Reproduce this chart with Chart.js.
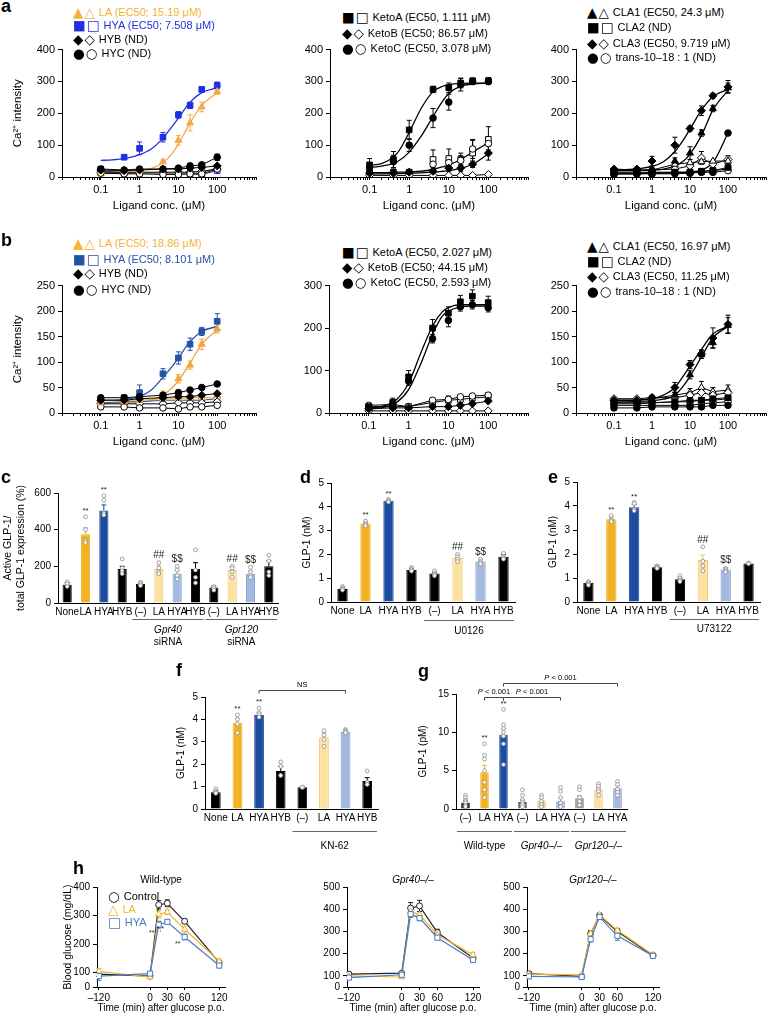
<!DOCTYPE html>
<html><head><meta charset="utf-8">
<script src="https://cdn.jsdelivr.net/npm/chart.js@4.4.1/dist/chart.umd.min.js"></script>
<style>
body{margin:0;background:#fff;}
#fig{position:relative;width:772px;height:1017px;overflow:hidden;font-family:'Liberation Sans',Arial,sans-serif;color:#000;}
#fig canvas{position:absolute;}
.lbl{position:absolute;font-weight:bold;font-size:18px;line-height:18px;}
.leg{position:absolute;font-size:11px;line-height:14px;white-space:nowrap;}
.sym{font-family:'DejaVu Sans';font-size:13.5px;letter-spacing:1px;margin-right:3px;vertical-align:-1px;}
.ttl{position:absolute;font-size:10px;line-height:12px;white-space:nowrap;transform:translateX(-50%);}
</style></head><body><div id="fig"></div>
<script>
'use strict';

// ---------- a / b : Ca2+ dose response ----------
const conc = [0.1, 0.4, 1, 4, 10, 20, 40, 100];
const fitX = [0.1, 0.2, 0.5, 1, 2, 4, 7, 10, 20, 40, 100];
const concLabels = [0.1, 1, 10, 100];

const a1LA = [18, 20, 20, 48, 115, 170, 220, 268];
const a1LAerr = [4, 4, 4, 6, 15, 25, 15, 8];
const a1HYA = [25, 62, 90, 125, 195, 225, 275, 288];
const a1HYAerr = [6, 5, 20, 15, 10, 10, 5, 10];
const a1HYB = [22, 20, 22, 25, 25, 28, 30, 35];
const a1HYC = [25, 22, 25, 25, 28, 35, 38, 62];
const a1HYCerr = [4, 4, 4, 4, 6, 6, 8, 10];
const a1LAo = [10, 12, 12, 12, 12, 12, 15, 28];
const a1HYAo = [20, 12, 12, 12, 10, 10, 8, 20];
const a1HYBo = [15, 15, 15, 15, 15, 15, 18, 25];
const a1HYCo = [12, 10, 10, 8, 8, 10, 10, 25];
const a1LAfit = [18, 18, 19, 21, 27, 45, 75, 103, 170, 225, 265];
const a1HYAfit = [52, 54, 60, 70, 88, 122, 160, 185, 235, 265, 280];

const a2A = [38, 55, 148, 275, 280, 295, 302, 302];
const a2Aerr = [20, 25, 30, 10, 15, 15, 8, 10];
const a2C = [30, 48, 100, 185, 235, 290, 300, 300];
const a2Cerr = [10, 20, 20, 30, 25, 20, 10, 10];
const a2B = [12, 12, 15, 18, 28, 28, 40, 75];
const a2Berr = [5, 5, 5, 5, 10, 10, 10, 22];
const a2Ao = [15, 15, 15, 55, 58, 55, 75, 118];
const a2Aoerr = [5, 5, 5, 30, 30, 20, 40, 40];
const a2Co = [12, 12, 15, 40, 45, 52, 88, 105];
const a2Coerr = [5, 5, 5, 10, 10, 15, 30, 20];
const a2Bo = [5, 5, 5, 5, 5, 5, 5, 8];
const a2Afit = [37, 42, 75, 140, 215, 268, 285, 290, 294, 295, 295];
const a2Cfit = [30, 34, 48, 78, 128, 190, 238, 262, 285, 292, 295];
const a2Bfit = [10, 10, 11, 12, 13, 15, 18, 20, 27, 40, 73];
const a2Ofit = [14, 14, 15, 16, 18, 24, 32, 38, 55, 78, 108];

const a3C1 = [20, 22, 25, 50, 75, 138, 215, 280];
const a3C1err = [5, 5, 5, 10, 20, 10, 10, 15];
const a3C3 = [22, 25, 50, 100, 152, 208, 255, 283];
const a3C3err = [5, 5, 15, 25, 8, 15, 8, 20];
const a3C2 = [15, 15, 15, 15, 15, 18, 20, 30];
const a3T = [8, 10, 10, 12, 12, 15, 15, 138];
const a3C1o = [20, 20, 22, 40, 45, 48, 50, 50];
const a3C2o = [12, 12, 12, 15, 15, 18, 20, 25];
const a3C3o = [25, 22, 22, 25, 35, 60, 40, 55];
const a3C3oerr = [4, 4, 4, 5, 10, 20, 10, 12];
const a3To = [10, 10, 10, 10, 12, 15, 15, 20];
const a3C3fit = [22, 23, 27, 33, 48, 80, 120, 150, 210, 252, 275];
const a3C1fit = [20, 20, 21, 22, 25, 35, 52, 72, 130, 210, 272];
const a3Tfit = [10, 10, 11, 12, 12, 13, 14, 15, 22, 45, 138];

const b1LA = [20, 22, 25, 35, 67, 94, 135, 165];
const b1LAerr = [5, 5, 5, 8, 8, 8, 10, 8];
const b1HYA = [25, 30, 40, 77, 108, 135, 160, 180];
const b1HYAerr = [5, 5, 15, 10, 12, 12, 8, 15];
const b1HYB = [25, 25, 28, 30, 32, 32, 35, 38];
const b1HYC = [30, 30, 32, 35, 40, 45, 50, 57];
const b1LAo = [25, 25, 25, 28, 28, 30, 30, 30];
const b1HYAo = [20, 22, 22, 25, 25, 25, 25, 28];
const b1HYBo = [18, 18, 18, 18, 20, 20, 20, 22];
const b1HYCo = [12, 12, 10, 10, 8, 12, 12, 15];
const b1LAfit = [20, 20, 21, 22, 25, 35, 50, 63, 98, 135, 163];
const b1HYAfit = [25, 25, 28, 32, 45, 70, 92, 108, 140, 160, 170];

const b2A = [15, 25, 85, 200, 235, 262, 275, 260];
const b2Aerr = [5, 10, 15, 20, 15, 15, 15, 15];
const b2C = [12, 20, 75, 175, 218, 250, 255, 248];
const b2Cerr = [5, 8, 10, 10, 15, 10, 10, 10];
const b2B = [10, 12, 12, 15, 15, 18, 22, 28];
const b2Ao = [15, 15, 15, 25, 30, 32, 35, 38];
const b2Aoerr = [5, 5, 5, 10, 10, 10, 10, 10];
const b2Co = [18, 20, 15, 30, 32, 38, 40, 42];
const b2Bo = [5, 5, 5, 5, 5, 5, 5, 5];
const b2Afit = [12, 15, 32, 70, 140, 205, 238, 248, 255, 255, 255];
const b2Cfit = [10, 12, 25, 55, 115, 185, 228, 240, 250, 252, 252];

const b3C1 = [22, 22, 25, 35, 75, 115, 138, 172];
const b3C1err = [5, 5, 5, 5, 8, 8, 10, 15];
const b3C3 = [25, 25, 30, 50, 95, 116, 147, 174];
const b3C3err = [5, 5, 5, 10, 8, 8, 20, 18];
const b3C2 = [20, 20, 20, 22, 25, 25, 28, 30];
const b3T = [10, 10, 12, 12, 12, 12, 15, 15];
const b3C1o = [25, 25, 28, 35, 40, 50, 42, 45];
const b3C1oerr = [4, 4, 4, 6, 8, 12, 8, 10];
const b3C2o = [18, 18, 20, 22, 22, 25, 25, 28];
const b3C3o = [28, 28, 30, 30, 35, 40, 35, 40];
const b3To = [15, 15, 15, 15, 15, 18, 20, 22];
const b3C3fit = [25, 25, 26, 28, 35, 50, 75, 92, 125, 155, 170];
const b3C1fit = [22, 22, 23, 24, 27, 35, 55, 72, 110, 148, 170];

const a1Legend = [['▲△', 'LA (EC50; 15.19 μM)', '#F5B335'], ['■□', 'HYA (EC50; 7.508 μM)', '#1F30E0'], ['◆◇', 'HYB (ND)', '#000'], ['●○', 'HYC (ND)', '#000']];
const a2Legend = [['■□', 'KetoA (EC50, 1.111 μM)', '#000'], ['◆◇', 'KetoB (EC50; 86.57 μM)', '#000'], ['●○', 'KetoC (EC50, 3.078 μM)', '#000']];
const a3Legend = [['▲△', 'CLA1 (EC50, 24.3 μM)', '#000'], ['■□', 'CLA2 (ND)', '#000'], ['◆◇', 'CLA3 (EC50, 9.719 μM)', '#000'], ['●○', 'trans-10–18 : 1 (ND)', '#000']];
const b1Legend = [['▲△', 'LA (EC50; 18.86 μM)', '#F5B335'], ['■□', 'HYA (EC50; 8.101 μM)', '#2453A5'], ['◆◇', 'HYB (ND)', '#000'], ['●○', 'HYC (ND)', '#000']];
const b2Legend = [['■□', 'KetoA (EC50, 2.027 μM)', '#000'], ['◆◇', 'KetoB (EC50; 44.15 μM)', '#000'], ['●○', 'KetoC (EC50, 2.593 μM)', '#000']];
const b3Legend = [['▲△', 'CLA1 (EC50, 16.97 μM)', '#000'], ['■□', 'CLA2 (ND)', '#000'], ['◆◇', 'CLA3 (EC50, 11.25 μM)', '#000'], ['●○', 'trans-10–18 : 1 (ND)', '#000']];

// ---------- c-g : GLP-1 bars ----------
const cNames = ['None', 'LA', 'HYA', 'HYB', '(–)', 'LA', 'HYA', 'HYB', '(–)', 'LA', 'HYA', 'HYB'];
const cVals = [100, 375, 505, 185, 105, 185, 160, 185, 85, 180, 160, 200];
const cErr = [10, 35, 30, 15, 8, 20, 20, 35, 8, 15, 15, 30];
const cDots = [[90, 105, 115, 100], [330, 340, 400, 470], [480, 490, 560, 585], [160, 175, 190, 240], [95, 100, 110, 112], [160, 170, 190, 220], [130, 150, 180, 200], [110, 140, 180, 290], [70, 80, 90], [140, 170, 190, 200], [140, 150, 170, 195], [150, 170, 230, 260]];
const cMarks = ['', '**', '**', '', '', '##', '$$', '', '', '##', '$$', ''];

const dNames = ['None', 'LA', 'HYA', 'HYB', '(–)', 'LA', 'HYA', 'HYB'];
const dVals = [0.55, 3.3, 4.25, 1.35, 1.2, 1.85, 1.7, 1.9];
const dErr = [0.03, 0.05, 0.05, 0.05, 0.05, 0.1, 0.08, 0.1];
const dDots = [[0.5, 0.55, 0.6, 0.65], [3.2, 3.25, 3.3, 3.4], [4.2, 4.25, 4.3, 4.3], [1.3, 1.35, 1.4, 1.45], [1.1, 1.15, 1.2, 1.3], [1.7, 1.8, 1.9, 2.0], [1.6, 1.65, 1.7, 1.8], [1.8, 1.85, 1.9, 2.05]];
const dMarks = ['', '**', '**', '', '', '##', '$$', ''];

const eVals = [0.8, 3.45, 3.95, 1.45, 0.95, 1.75, 1.35, 1.6];
const eErr = [0.05, 0.1, 0.12, 0.05, 0.06, 0.2, 0.08, 0.02];
const eDots = [[0.7, 0.75, 0.8, 0.85], [3.35, 3.4, 3.45, 3.6], [3.8, 3.85, 4.1, 4.15], [1.4, 1.45, 1.5, 1.5], [0.85, 0.9, 1.0, 1.1], [1.3, 1.5, 1.7, 2.3], [1.25, 1.3, 1.35, 1.4], [1.6, 1.6, 1.62, 1.62]];

const fVals = [0.75, 3.85, 4.2, 1.7, 0.97, 3.2, 3.45, 1.25];
const fErr = [0.05, 0.2, 0.1, 0.2, 0.01, 0.2, 0.05, 0.15];
const fDots = [[0.7, 0.75, 0.8, 0.9], [3.4, 3.8, 4.0, 4.2], [4.1, 4.2, 4.3, 4.5], [1.5, 1.5, 1.9, 2.1], [0.97, 0.97, 0.97, 0.97], [2.8, 3.1, 3.3, 3.5], [3.4, 3.45, 3.5, 3.55], [1.1, 1.1, 1.2, 1.7]];
const fMarks = ['', '**', '**', '', '', '', '', ''];

const gNames = ['(–)', 'LA', 'HYA', '(–)', 'LA', 'HYA', '(–)', 'LA', 'HYA'];
const gVals = [0.8, 4.8, 9.7, 0.9, 1.1, 1.0, 1.4, 2.5, 2.7];
const gErr = [0.2, 0.9, 0.8, 0.3, 0.3, 0.4, 0.3, 0.3, 0.4];
const gDots = [[0.3, 0.5, 0.8, 1.0, 1.2, 1.5, 1.8], [1.5, 2.5, 3.5, 5.0, 6.5, 7.0, 8.5], [5.8, 8.5, 9.5, 10.0, 10.5, 11, 13], [0.3, 0.6, 0.9, 1.2, 1.8, 2.5], [0.3, 0.6, 1.0, 1.5, 1.8], [0.3, 0.8, 1.5, 2.3, 2.8], [0.5, 1.0, 1.5, 2.5, 2.9], [1.8, 2.3, 2.6, 3.0, 3.3], [1.8, 2.2, 2.6, 3.2, 3.6]];
const gMarks = ['', '**', '**', '', '', '', '', '', ''];

// ---------- h : OGTT ----------
const hTimes = [-120, 0, 15, 30, 60, 120];
const hTickTimes = [-120, 0, 30, 60, 120];
const h1Ctrl = [95, 88, 338, 343, 280, 135];
const h1CtrlErr = [8, 5, 15, 12, 8, 5];
const h1LA = [105, 85, 305, 312, 252, 140];
const h1LAErr = [10, 5, 12, 8, 10, 8];
const h1HYA = [88, 97, 268, 278, 225, 125];
const h1HYAErr = [15, 8, 12, 8, 10, 8];
const h1Marks = ['', '', '**', '*,*', '**', ''];
const h2Ctrl = [108, 112, 405, 415, 295, 180];
const h2CtrlErr = [8, 5, 25, 25, 15, 8];
const h2LA = [100, 95, 390, 375, 285, 195];
const h2LAErr = [8, 5, 15, 12, 10, 10];
const h2HYA = [92, 105, 378, 360, 272, 172];
const h2HYAErr = [8, 5, 15, 12, 10, 10];
const h3Ctrl = [110, 98, 290, 372, 300, 192];
const h3CtrlErr = [8, 5, 12, 8, 12, 5];
const h3LA = [108, 105, 290, 375, 305, 195];
const h3LAErr = [8, 5, 12, 8, 10, 5];
const h3HYA = [98, 95, 265, 365, 280, 190];
const h3HYAErr = [8, 5, 12, 8, 20, 5];

// colours
const K = '#000';
const LA = '#F3B225', HYA = '#1D4BA0', LA_L = '#FCE2A2', HYA_L = '#A3B9E0';
const LA_LB = '#F0C765', HYA_LB = '#7C98CC';
const LA_A = '#F4A84E', HYA_A = '#1F30E0';
const LA_B = '#F2A340', HYA_B = '#2453A5';
const LA_H = '#F2B52C', HYA_H = '#4A7CC4';

const FONT = "'Liberation Sans', Arial, sans-serif";
Chart.defaults.font.family = FONT;
Chart.defaults.color = '#000';
Chart.defaults.animation = false;
Chart.defaults.responsive = false;
Chart.defaults.events = [];
Chart.defaults.plugins.legend.display = false;
Chart.defaults.plugins.tooltip.enabled = false;

const fig = document.getElementById('fig');

// error bars, drawn behind marks
const errorBars = {
  id: 'errorBars',
  beforeDatasetsDraw(chart) {
    const ctx = chart.ctx;
    chart.data.datasets.forEach((ds, di) => {
      if (!ds.errors) return;
      const meta = chart.getDatasetMeta(di);
      const ys = chart.scales[meta.yAxisID];
      const cap = ds.errCap || 2.5;
      ctx.save();
      ctx.lineWidth = 1;
      meta.data.forEach((el, i) => {
        const e = ds.errors[i];
        const raw = ds.data[i];
        const v = raw !== null && typeof raw === 'object' ? raw.y : raw;
        if (!e || v == null) return;
        ctx.strokeStyle = Array.isArray(ds.errColor) ? ds.errColor[i] : (ds.errColor || K);
        const y1 = ys.getPixelForValue(v + e);
        const y0 = ds.errUp ? ys.getPixelForValue(v) : ys.getPixelForValue(v - e);
        ctx.beginPath();
        ctx.moveTo(el.x, y0); ctx.lineTo(el.x, y1);
        ctx.moveTo(el.x - cap, y1); ctx.lineTo(el.x + cap, y1);
        if (!ds.errUp) { ctx.moveTo(el.x - cap, y0); ctx.lineTo(el.x + cap, y0); }
        ctx.stroke();
      });
      ctx.restore();
    });
  }
};

// significance marks (**, ##, $$)
const sigMarks = {
  id: 'sigMarks',
  afterDatasetsDraw(chart) {
    const ctx = chart.ctx;
    chart.data.datasets.forEach((ds, di) => {
      if (!ds.marks) return;
      const meta = chart.getDatasetMeta(di);
      const ys = chart.scales[meta.yAxisID];
      ctx.save();
      ctx.fillStyle = '#222';
      ctx.textAlign = 'center';
      ctx.textBaseline = ds.markBase || 'bottom';
      meta.data.forEach((el, i) => {
        const m = ds.marks[i];
        if (!m) return;
        ctx.font = (m.indexOf('*') >= 0 ? ds.starSize : ds.markSize) + 'px ' + FONT;
        ctx.fillText(m, el.x + (ds.markDx || 0), ys.getPixelForValue(ds.markAt[i]) + (ds.markDy || -2));
      });
      ctx.restore();
    });
  }
};

// treatment group underlines below category axis
const groupLines = {
  id: 'groupLines',
  afterDraw(chart, args, o) {
    if (!o || !o.items) return;
    const xs = chart.scales.x, ctx = chart.ctx;
    const half = xs.width / chart.data.labels.length * 0.45;
    const yb = chart.chartArea.bottom;
    ctx.save();
    o.items.forEach(it => {
      const x0 = xs.getPixelForValue(it.from) - half, x1 = xs.getPixelForValue(it.to) + half;
      ctx.strokeStyle = '#666'; ctx.lineWidth = 1;
      ctx.beginPath(); ctx.moveTo(x0, Math.round(yb + o.lineDy) + .5); ctx.lineTo(x1, Math.round(yb + o.lineDy) + .5); ctx.stroke();
      ctx.fillStyle = '#000'; ctx.textAlign = 'center'; ctx.textBaseline = 'middle';
      it.text.forEach((t, k) => {
        ctx.font = (k === 0 && it.italic ? 'italic ' : '') + o.size + 'px ' + FONT;
        ctx.fillText(t, (x0 + x1) / 2, yb + o.textDy + k * 12);
      });
    });
    ctx.restore();
  }
};

// comparison brackets above bars
const brackets = {
  id: 'brackets',
  afterDraw(chart, args, o) {
    if (!o || !o.items) return;
    const xs = chart.scales.x, ys = chart.scales.y, ctx = chart.ctx;
    ctx.save();
    ctx.strokeStyle = '#444'; ctx.lineWidth = 1; ctx.fillStyle = '#000';
    o.items.forEach(it => {
      const x0 = xs.getPixelForValue(it.a), x1 = xs.getPixelForValue(it.b);
      const y = Math.round(ys.getPixelForValue(it.y)) + .5;
      ctx.beginPath(); ctx.moveTo(x0, y + 3); ctx.lineTo(x0, y); ctx.lineTo(x1, y); ctx.lineTo(x1, y + 3); ctx.stroke();
      ctx.textBaseline = 'bottom'; ctx.textAlign = 'left';
      const cx = (x0 + x1) / 2;
      if (it.text.startsWith('P ')) {
        ctx.font = 'italic 7.5px ' + FONT; const wP = ctx.measureText('P').width;
        ctx.font = '7.5px ' + FONT; const rest = it.text.slice(1); const wR = ctx.measureText(rest).width;
        const sx = cx - (wP + wR) / 2;
        ctx.font = 'italic 7.5px ' + FONT; ctx.fillText('P', sx, y - 2);
        ctx.font = '7.5px ' + FONT; ctx.fillText(rest, sx + wP, y - 2);
      } else {
        ctx.font = '7.5px ' + FONT; ctx.textAlign = 'center';
        ctx.fillText(it.text, cx, y - 2);
      }
    });
    ctx.restore();
  }
};
Chart.register(errorBars, sigMarks, groupLines, brackets);

// canvas placed so that its axes land on given pixel lines
function place(X0, X1, Y0, Y1, yw, xh, padT, padR) {
  const c = document.createElement('canvas');
  const left = X0 - yw, top = Y0 - padT;
  const w = Math.round(X1 - left + padR), h = Math.round(Y1 + xh - top);
  c.width = w; c.height = h;
  c.style.left = left + 'px'; c.style.top = top + 'px';
  c.style.width = w + 'px'; c.style.height = h + 'px';
  fig.appendChild(c);
  return { c, yw, xh, padding: { top: padT, right: padR, left: 0, bottom: 0 } };
}

function text(cls, x, y, str, style) {
  const d = document.createElement('div');
  d.className = cls; d.style.left = x + 'px'; d.style.top = y + 'px';
  d.textContent = str;
  if (style) Object.assign(d.style, style);
  fig.appendChild(d);
  return d;
}

function legend(rows, x, ys) {
  rows.forEach((r, i) => {
    const d = document.createElement('div');
    d.className = 'leg'; d.style.left = x + 'px'; d.style.top = (ys[i] - 7) + 'px'; d.style.color = r[2];
    const s = document.createElement('span'); s.className = 'sym'; s.textContent = r[0];
    d.appendChild(s); d.appendChild(document.createTextNode(r[1]));
    fig.appendChild(d);
  });
}

const logTicks = [];
for (let e = -2; e <= 2; e++) for (let k = 1; k <= 9; k++) logTicks.push(Number((k * Math.pow(10, e)).toPrecision(6)));
logTicks.push(1000);

function yAxis(g, o) {
  return {
    min: o.min || 0, max: o.max,
    border: { display: true, color: K, width: 1 },
    grid: { drawOnChartArea: false, drawTicks: true, tickLength: 4, color: K },
    ticks: Object.assign({ stepSize: o.step, font: { size: o.size || 11 }, color: K, padding: 3 }, o.ticks || {}),
    afterFit: s => { s.width = g.yw; },
    afterBuildTicks: o.tickVals ? (s => { s.ticks = o.tickVals.map(v => ({ value: v })); }) : undefined,
    title: { display: !!o.title, text: o.title, font: { size: o.titleSize || 11.5 }, color: K, padding: { top: o.titlePad || 0, bottom: 0 } }
  };
}

function doseChart(g, o) {
  const sets = [];
  o.fits.forEach(f => sets.push({
    type: 'line', data: fitX.map((x, i) => ({ x, y: f.y[i] })), borderColor: f.c, borderWidth: 1.3,
    pointRadius: 0, cubicInterpolationMode: 'monotone', fill: false, order: 9
  }));
  o.series.forEach(s => sets.push({
    type: 'scatter', data: conc.map((x, i) => ({ x, y: s.y[i] })), showLine: !!s.line,
    borderColor: s.c, borderWidth: 1, pointStyle: s.s,
    pointRadius: s.s === 'circle' ? 3.3 : 4, pointBorderWidth: 1,
    pointBackgroundColor: s.f ? s.c : '#fff', pointBorderColor: s.c,
    errors: s.e, errColor: s.c, errCap: 2.5, order: s.f ? 1 : 3
  }));
  new Chart(g.c, {
    type: 'scatter',
    data: { datasets: sets },
    options: {
      devicePixelRatio: 1,
      layout: { padding: g.padding },
      scales: {
        x: {
          type: 'logarithmic', min: 0.01, max: 1000,
          border: { display: true, color: K, width: 1 },
          grid: { drawOnChartArea: false, drawTicks: true, tickLength: 3, color: K },
          afterBuildTicks: s => { s.ticks = logTicks.map(v => ({ value: v })); },
          ticks: { autoSkip: false, maxRotation: 0, font: { size: 11 }, color: K, padding: 3,
            callback: v => concLabels.includes(v) ? String(v) : '' },
          afterFit: s => { s.height = g.xh; },
          title: { display: true, text: 'Ligand conc. (μM)', font: { size: 11.5 }, color: K, padding: { top: 0, bottom: 4 } }
        },
        y: yAxis(g, { max: o.yMax, step: o.yStep, title: o.yTitle, titlePad: o.titlePad, size: 11 })
      }
    }
  });
}

function hatch(base, line) {
  const p = document.createElement('canvas'); p.width = 3; p.height = 3;
  const x = p.getContext('2d');
  x.fillStyle = base; x.fillRect(0, 0, 3, 3);
  x.fillStyle = line; x.fillRect(0, 0, 3, 1); x.fillRect(0, 0, 1, 3);
  return x.createPattern(p, 'repeat');
}

function barChart(g, o) {
  const nd = Math.max(...o.dots.map(d => d.length));
  const dotSets = [];
  for (let k = 0; k < nd; k++) dotSets.push({
    type: 'line', data: o.dots.map(d => d[k] === undefined ? null : d[k]), showLine: false,
    pointRadius: 1.9, pointBackgroundColor: '#fff', pointBorderColor: '#8c8c8c', pointBorderWidth: 0.8, order: 0
  });
  const markAt = o.vals.map((v, i) => Math.max(v + o.errs[i], ...o.dots[i]));
  new Chart(g.c, {
    type: 'bar',
    data: {
      labels: o.names,
      datasets: [{
        data: o.vals, backgroundColor: o.colors, borderColor: o.borders, borderWidth: 1,
        barPercentage: o.bp || 0.45, categoryPercentage: 1,
        errors: o.errs, errUp: true, errColor: o.borders, errCap: 2.5,
        marks: o.marks, markAt, markSize: 10, starSize: 8, order: 1
      }, ...dotSets]
    },
    options: {
      devicePixelRatio: 1,
      layout: { padding: g.padding },
      scales: {
        x: {
          border: { display: true, color: K, width: 1 },
          grid: { display: false, drawTicks: false },
          ticks: { autoSkip: false, maxRotation: 0, minRotation: 0, font: { size: o.xSize || 10 }, color: K, padding: 3 },
          afterFit: s => { s.height = g.xh; }
        },
        y: yAxis(g, { max: o.yMax, step: o.yStep, title: o.yTitle, titlePad: o.titlePad, size: 10, titleSize: o.titleSize || 10 })
      },
      plugins: {
        groupLines: o.groups || {},
        brackets: o.brackets || {}
      }
    }
  });
}

const brk = t => t < 0 ? t * 0.74 : t;

function ogttChart(g, o) {
  const mk = (y, e, c, style, extra) => Object.assign({
    type: 'line', data: hTimes.map((t, i) => ({ x: brk(t), y: y[i] })), borderColor: c, borderWidth: 1.2,
    pointStyle: style, pointRadius: style === 'circle' ? 3 : 3.6, pointBorderWidth: 1,
    pointBackgroundColor: '#fff', pointBorderColor: c, tension: 0,
    errors: e, errColor: c, errCap: 2.5
  }, extra || {});
  const sets = [
    mk(o.hya, o.hyaE, HYA_H, 'rect', o.hyaMarks ? { marks: o.hyaMarks, markAt: o.hya.map((v, i) => v - o.hyaE[i]), markBase: 'top', markDy: 1, markDx: -7, starSize: 7, markSize: 7 } : {}),
    mk(o.la, o.laE, LA_H, 'triangle'),
    mk(o.ctrl, o.ctrlE, '#222', 'circle')
  ];
  new Chart(g.c, {
    type: 'scatter',
    data: { datasets: sets },
    options: {
      devicePixelRatio: 1,
      layout: { padding: g.padding },
      scales: {
        x: {
          type: 'linear', min: -92, max: 130,
          border: { display: true, color: K, width: 1 },
          grid: { drawOnChartArea: false, drawTicks: true, tickLength: 3, color: K },
          afterBuildTicks: s => { s.ticks = hTickTimes.map(t => ({ value: brk(t) })); },
          ticks: { autoSkip: false, maxRotation: 0, font: { size: 10 }, color: K, padding: 2,
            callback: (v, i) => hTickTimes[i] < 0 ? '–' + Math.abs(hTickTimes[i]) : String(hTickTimes[i]) },
          afterFit: s => { s.height = g.xh; },
          title: { display: true, text: 'Time (min) after glucose p.o.', font: { size: 10 }, color: K, padding: { top: 0, bottom: 2 } }
        },
        y: yAxis(g, { min: 50, max: o.yMax, tickVals: o.yTicks, title: o.yTitle, titlePad: 5, size: 10, titleSize: 10.5,
          ticks: { callback: v => v === 50 ? '0' : String(v) } })
      }
    }
  });
}

// ===== panel a =====
doseChart(place(62, 257, 48, 177, 62, 40, 8, 4), {
  yMax: 400, yStep: 100, yTitle: 'Ca²⁺ intensity', titlePad: 11,
  fits: [{ y: a1LAfit, c: LA_A }, { y: a1HYAfit, c: HYA_A }],
  series: [
    { y: a1HYCo, c: K, s: 'circle', f: false, line: true },
    { y: a1HYBo, c: K, s: 'rectRot', f: false, line: true },
    { y: a1LAo, c: LA_A, s: 'triangle', f: false, line: true },
    { y: a1HYAo, c: HYA_A, s: 'rect', f: false, line: true },
    { y: a1HYB, c: K, s: 'rectRot', f: true, line: true },
    { y: a1HYC, e: a1HYCerr, c: K, s: 'circle', f: true, line: true },
    { y: a1LA, e: a1LAerr, c: LA_A, s: 'triangle', f: true },
    { y: a1HYA, e: a1HYAerr, c: HYA_A, s: 'rect', f: true }
  ]
});
doseChart(place(330, 529, 48, 177, 40, 40, 8, 4), {
  yMax: 400, yStep: 100,
  fits: [{ y: a2Afit, c: K }, { y: a2Cfit, c: K }, { y: a2Bfit, c: K }, { y: a2Ofit, c: K }],
  series: [
    { y: a2Bo, c: K, s: 'rectRot', f: false, line: true },
    { y: a2Co, e: a2Coerr, c: K, s: 'circle', f: false },
    { y: a2Ao, e: a2Aoerr, c: K, s: 'rect', f: false },
    { y: a2B, e: a2Berr, c: K, s: 'rectRot', f: true },
    { y: a2C, e: a2Cerr, c: K, s: 'circle', f: true },
    { y: a2A, e: a2Aerr, c: K, s: 'rect', f: true }
  ]
});
doseChart(place(576, 768, 48, 177, 40, 40, 8, 3), {
  yMax: 400, yStep: 100,
  fits: [{ y: a3C3fit, c: K }, { y: a3C1fit, c: K }, { y: a3Tfit, c: K }],
  series: [
    { y: a3To, c: K, s: 'circle', f: false, line: true },
    { y: a3C2o, c: K, s: 'rect', f: false, line: true },
    { y: a3C1o, c: K, s: 'triangle', f: false, line: true },
    { y: a3C3o, e: a3C3oerr, c: K, s: 'rectRot', f: false, line: true },
    { y: a3C2, c: K, s: 'rect', f: true, line: true },
    { y: a3T, c: K, s: 'circle', f: true },
    { y: a3C1, e: a3C1err, c: K, s: 'triangle', f: true },
    { y: a3C3, e: a3C3err, c: K, s: 'rectRot', f: true }
  ]
});

// ===== panel b =====
doseChart(place(62, 257, 284, 413, 62, 40, 8, 4), {
  yMax: 250, yStep: 50, yTitle: 'Ca²⁺ intensity', titlePad: 11,
  fits: [{ y: b1LAfit, c: LA_B }, { y: b1HYAfit, c: HYA_B }],
  series: [
    { y: b1HYCo, c: K, s: 'circle', f: false, line: true },
    { y: b1HYBo, c: K, s: 'rectRot', f: false, line: true },
    { y: b1LAo, c: LA_B, s: 'triangle', f: false, line: true },
    { y: b1HYAo, c: HYA_B, s: 'rect', f: false, line: true },
    { y: b1HYB, c: K, s: 'rectRot', f: true, line: true },
    { y: b1HYC, c: K, s: 'circle', f: true, line: true },
    { y: b1LA, e: b1LAerr, c: LA_B, s: 'triangle', f: true },
    { y: b1HYA, e: b1HYAerr, c: HYA_B, s: 'rect', f: true }
  ]
});
doseChart(place(329, 529, 284, 413, 40, 40, 8, 4), {
  yMax: 300, yStep: 100,
  fits: [{ y: b2Afit, c: K }, { y: b2Cfit, c: K }],
  series: [
    { y: b2Bo, c: K, s: 'rectRot', f: false, line: true },
    { y: b2Co, c: K, s: 'circle', f: false, line: true },
    { y: b2Ao, e: b2Aoerr, c: K, s: 'rect', f: false, line: true },
    { y: b2B, c: K, s: 'rectRot', f: true, line: true },
    { y: b2C, e: b2Cerr, c: K, s: 'circle', f: true },
    { y: b2A, e: b2Aerr, c: K, s: 'rect', f: true }
  ]
});
doseChart(place(576, 768, 284, 413, 40, 40, 8, 3), {
  yMax: 250, yStep: 50,
  fits: [{ y: b3C3fit, c: K }, { y: b3C1fit, c: K }],
  series: [
    { y: b3To, c: K, s: 'circle', f: false, line: true },
    { y: b3C2o, c: K, s: 'rect', f: false, line: true },
    { y: b3C3o, c: K, s: 'rectRot', f: false, line: true },
    { y: b3C1o, e: b3C1oerr, c: K, s: 'triangle', f: false, line: true },
    { y: b3C2, c: K, s: 'rect', f: true, line: true },
    { y: b3T, c: K, s: 'circle', f: true, line: true },
    { y: b3C1, e: b3C1err, c: K, s: 'triangle', f: true },
    { y: b3C3, e: b3C3err, c: K, s: 'rectRot', f: true }
  ]
});

legend(a1Legend, 73, [12, 25, 39, 53]);
legend(a2Legend, 342, [17, 33, 48]);
legend(a3Legend, 587, [12, 27, 43, 57]);
legend(b1Legend, 73, [243, 259, 273, 289]);
legend(b2Legend, 342, [252, 267, 282]);
legend(b3Legend, 587, [246, 261, 276, 291]);

// ===== panels c-g =====
const dColors = [K, LA, HYA, K, K, LA_L, HYA_L, K];
const dBorders = [K, LA, HYA, K, K, LA_LB, HYA_LB, K];
barChart(place(58, 278, 492, 603, 58, 50, 8, 6), {
  names: cNames, vals: cVals, errs: cErr, dots: cDots, marks: cMarks,
  colors: [K, LA, HYA, K, K, LA_L, HYA_L, K, K, LA_L, HYA_L, K],
  borders: [K, LA, HYA, K, K, LA_LB, HYA_LB, K, K, LA_LB, HYA_LB, K],
  yMax: 600, yStep: 200, bp: 0.5, titlePad: 2, titleSize: 10.5,
  yTitle: ['Active GLP-1/', 'total GLP-1 expression (%)'],
  groups: { lineDy: 16, textDy: 27, size: 10, items: [
    { from: 4, to: 7, text: ['Gpr40', 'siRNA'], italic: true },
    { from: 8, to: 11, text: ['Gpr120', 'siRNA'], italic: true }] }
});
barChart(place(331, 515, 482, 602, 45, 42, 8, 6), {
  names: dNames, vals: dVals, errs: dErr, dots: dDots, marks: dMarks,
  colors: dColors, borders: dBorders, yMax: 5, yStep: 1, titlePad: 15, yTitle: 'GLP-1 (nM)',
  groups: { lineDy: 18, textDy: 29, size: 10, items: [{ from: 4, to: 7, text: ['U0126'] }] }
});
barChart(place(577, 760, 481, 602, 45, 42, 8, 6), {
  names: dNames, vals: eVals, errs: eErr, dots: eDots, marks: dMarks,
  colors: dColors, borders: dBorders, yMax: 5, yStep: 1, titlePad: 15, yTitle: 'GLP-1 (nM)',
  groups: { lineDy: 17, textDy: 27, size: 10, items: [{ from: 4, to: 7, text: ['U73122'] }] }
});
barChart(place(205, 378, 697, 809, 45, 46, 20, 6), {
  names: dNames, vals: fVals, errs: fErr, dots: fDots, marks: fMarks,
  colors: dColors, borders: dBorders, yMax: 5, yStep: 1, titlePad: 15, yTitle: 'GLP-1 (nM)',
  groups: { lineDy: 22, textDy: 37, size: 10, items: [{ from: 4, to: 7, text: ['KN-62'] }] },
  brackets: { items: [{ a: 2, b: 6, y: 5.31, text: 'NS' }] }
});
barChart(place(456, 627, 694, 809, 45, 46, 26, 6), {
  names: gNames, vals: gVals, errs: gErr, dots: gDots, marks: gMarks,
  colors: [K, LA, HYA, hatch('#f4f4f4', '#555'), hatch('#FCE2A2', '#E2B64E'), hatch('#C9D6EE', '#6F8FC8'), '#9a9a9a', LA_L, HYA_L],
  borders: [K, LA, HYA, '#444', '#E7BE5F', '#6F8FC8', '#777', LA_LB, HYA_LB],
  yMax: 15, yStep: 5, titlePad: 6, yTitle: 'GLP-1 (pM)', bp: 0.45,
  groups: { lineDy: 22, textDy: 37, size: 10, items: [
    { from: 0, to: 2, text: ['Wild-type'] },
    { from: 3, to: 5, text: ['Gpr40–/–'], italic: true },
    { from: 6, to: 8, text: ['Gpr120–/–'], italic: true }] },
  brackets: { items: [
    { a: 1, b: 2, y: 14.6, text: 'P < 0.001' },
    { a: 2, b: 5, y: 14.6, text: 'P < 0.001' },
    { a: 2, b: 8, y: 16.4, text: 'P < 0.001' }] }
});

// ===== panel h =====
ogttChart(place(97, 226, 886, 987, 40, 29, 8, 4), {
  yMax: 400, yTicks: [50, 100, 200, 300, 400], yTitle: 'Blood glucose (mg/dL)',
  ctrl: h1Ctrl, ctrlE: h1CtrlErr, la: h1LA, laE: h1LAErr, hya: h1HYA, hyaE: h1HYAErr, hyaMarks: h1Marks
});
ogttChart(place(347, 480, 886, 987, 40, 29, 8, 4), {
  yMax: 500, yTicks: [50, 100, 200, 300, 400, 500],
  ctrl: h2Ctrl, ctrlE: h2CtrlErr, la: h2LA, laE: h2LAErr, hya: h2HYA, hyaE: h2HYAErr
});
ogttChart(place(527, 660, 886, 987, 40, 29, 8, 4), {
  yMax: 500, yTicks: [50, 100, 200, 300, 400, 500],
  ctrl: h3Ctrl, ctrlE: h3CtrlErr, la: h3LA, laE: h3LAErr, hya: h3HYA, hyaE: h3HYAErr
});
text('ttl', 161, 874, 'Wild-type');
text('ttl', 413, 874, 'Gpr40–/–', { fontStyle: 'italic' });
text('ttl', 593, 874, 'Gpr120–/–', { fontStyle: 'italic' });
legend([['○', 'Control', '#000'], ['△', 'LA', LA_H], ['□', 'HYA', HYA_H]], 108, [896, 909, 922]);

// panel letters
[['a', 1, -3], ['b', 1, 231], ['c', 1, 468], ['d', 300, 468], ['e', 548, 468],
 ['f', 176, 661], ['g', 418, 662], ['h', 73, 859]].forEach(l => text('lbl', l[1], l[2], l[0]));
</script>
</body></html>
